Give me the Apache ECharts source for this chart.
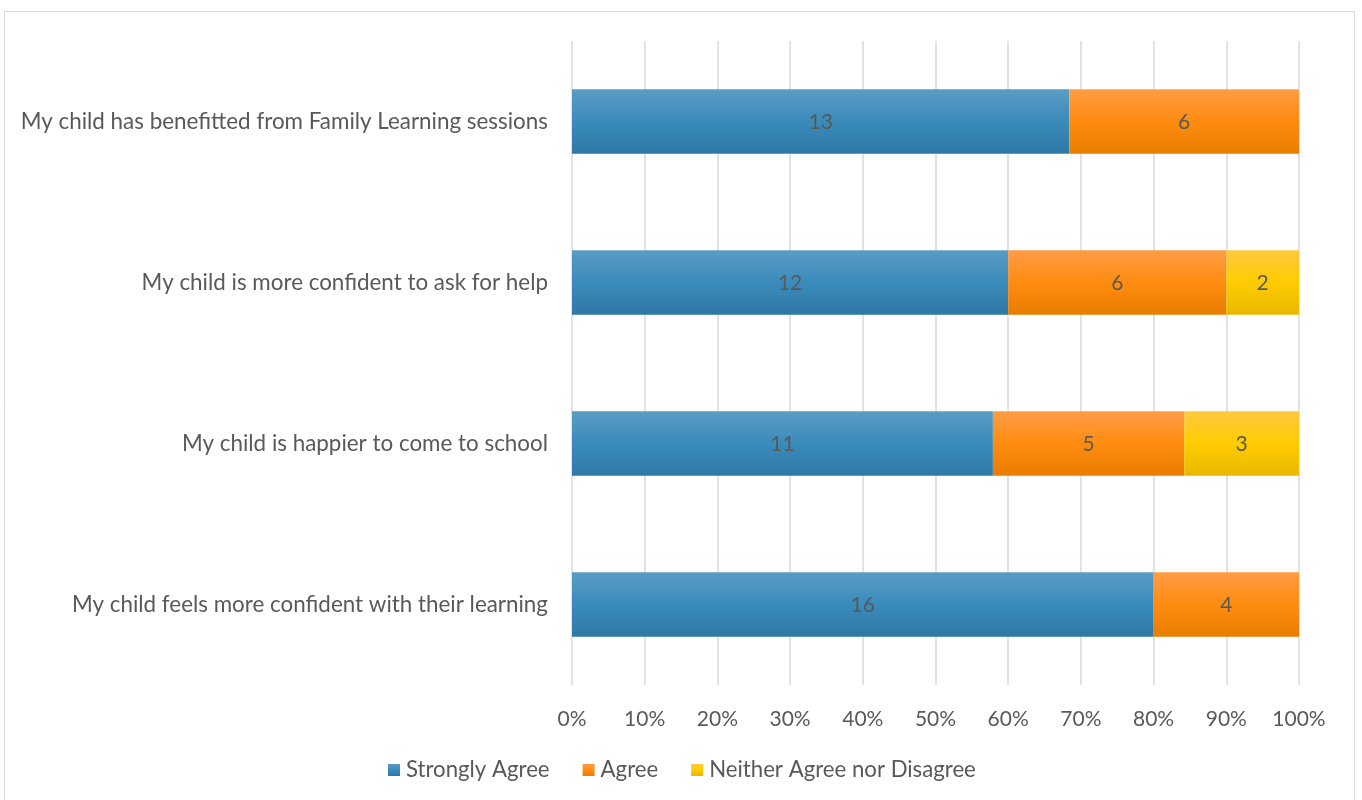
<!DOCTYPE html>
<html>
<head>
<meta charset="utf-8">
<title>Family Learning survey</title>
<script src="https://cdn.jsdelivr.net/npm/echarts@6/dist/echarts.min.js"></script>
<style>
  html, body { margin: 0; padding: 0; background: #ffffff; }
  #chart { width: 1362px; height: 800px; }
</style>
</head>
<body>
<div id="chart"></div>
<script>
// Survey statements, listed bottom to top as they appear on the axis
const categories = [
  'My child feels more confident with their learning',
  'My child is happier to come to school',
  'My child is more confident to ask for help',
  'My child has benefitted from Family Learning sessions'
];

// Response counts per statement
const stronglyAgree = [16, 11, 12, 13];
const agree = [4, 5, 6, 6];
const neither = [0, 3, 2, 0];

const seriesNames = ['Strongly Agree', 'Agree', 'Neither Agree nor Disagree'];
const tickLabels = ['0%', '10%', '20%', '30%', '40%', '50%', '60%', '70%', '80%', '90%', '100%'];

const totals = categories.map((_, i) => stronglyAgree[i] + agree[i] + neither[i]);
const toShare = arr => arr.map((v, i) => ({ value: v / totals[i] * 100, count: v }));

const grad = (top, mid, bottom) => new echarts.graphic.LinearGradient(0, 0, 0, 1, [
  { offset: 0, color: top },
  { offset: 0.5, color: mid },
  { offset: 1, color: bottom }
]);

const fills = [
  grad('#5b9cc5', '#3a8bbb', '#2e78a5'),
  grad('#ff9c45', '#ff8c10', '#e87d00'),
  grad('#ffc93f', '#ffcc00', '#e8b800')
];

const FONT = 'Lato, "Open Sans", sans-serif';
const TEXT = '#595959';

const mkSeries = (name, arr, fill) => ({
  name,
  type: 'bar',
  stack: 'total',
  barWidth: '40%',
  data: toShare(arr),
  itemStyle: { color: fill },
  label: {
    show: true,
    position: 'inside',
    color: TEXT,
    fontFamily: FONT,
    fontSize: 21,
    offset: [0, 1],
    formatter: p => (p.data.count > 0 ? String(p.data.count) : '')
  },
  emphasis: { disabled: true }
});

const chart = echarts.init(document.getElementById('chart'), null, { renderer: 'canvas' });

chart.setOption({
  animation: false,
  backgroundColor: '#ffffff',
  graphic: [{
    type: 'rect',
    shape: { x: 4.5, y: 11.5, width: 1350, height: 800 },
    style: { fill: 'none', stroke: '#d9d9d9', lineWidth: 1 },
    silent: true
  }],
  grid: { left: 572, right: 63, top: 41, bottom: 115, containLabel: false },
  legend: {
    bottom: 19,
    left: 388,
    padding: 0,
    itemWidth: 12,
    itemHeight: 12,
    itemGap: 33,
    icon: 'rect',
    textStyle: { color: TEXT, fontFamily: FONT, fontSize: 22.2, padding: [0, 0, 0, 1] },
    data: seriesNames
  },
  xAxis: {
    type: 'value',
    min: 0,
    max: 100,
    interval: 10,
    axisLine: { show: false },
    axisTick: { show: false },
    splitLine: { show: true, lineStyle: { color: '#d9d9d9', width: 1.5 } },
    axisLabel: {
      color: TEXT,
      fontFamily: FONT,
      fontSize: 21,
      margin: 24,
      formatter: v => tickLabels[Math.round(v / 10)]
    }
  },
  yAxis: {
    type: 'category',
    data: categories,
    axisLine: { show: false },
    axisTick: { show: false },
    axisLabel: { color: TEXT, fontFamily: FONT, fontSize: 22.4, margin: 24 }
  },
  series: [
    mkSeries(seriesNames[0], stronglyAgree, fills[0]),
    mkSeries(seriesNames[1], agree, fills[1]),
    mkSeries(seriesNames[2], neither, fills[2])
  ]
});
</script>
</body>
</html>
